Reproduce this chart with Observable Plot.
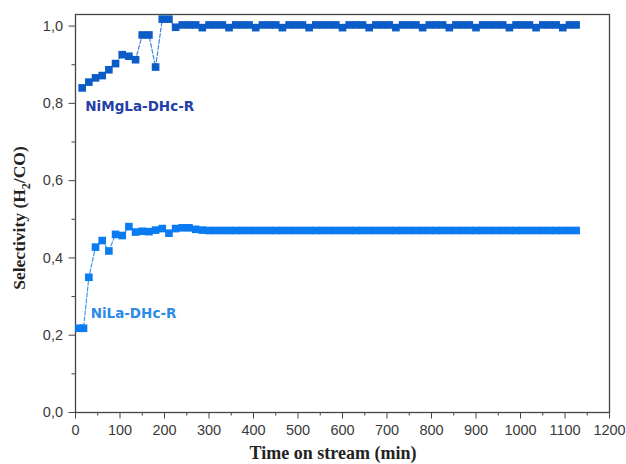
<!DOCTYPE html>
<html><head><meta charset="utf-8">
<script src="https://cdn.jsdelivr.net/npm/d3@7"></script>
<script src="https://cdn.jsdelivr.net/npm/@observablehq/plot@0.6"></script>
<style>body{margin:0;background:#fff}</style>
</head><body><div id="chart"></div>
<script>
const xTicks = [0,100,200,300,400,500,600,700,800,900,1000,1100,1200];
const xMinorTicks = [50,150,250,350,450,550,650,750,850,950,1050,1150];
const yTicks = [0,0.2,0.4,0.6,0.8,1.0];
const yMinorTicks = [0.1,0.3,0.5,0.7,0.9];

const seriesNames = ["NiMgLa-DHc-R", "NiLa-DHc-R"];

const timeUpper = [15,30,45,60,75,90,105,120,135,150,165,180,195,210,225,240,255,270,285,300,315,330,345,360,375,390,405,420,435,450,465,480,495,510,525,540,555,570,585,600,615,630,645,660,675,690,705,720,735,750,765,780,795,810,825,840,855,870,885,900,915,930,945,960,975,990,1005,1020,1035,1050,1065,1080,1095,1110,1125];
const selUpper = [0.840,0.855,0.866,0.872,0.887,0.903,0.926,0.922,0.913,0.977,0.977,0.894,1.018,1.018,0.997,1.003,1.003,1.003,0.996,1.003,1.003,1.003,0.996,1.003,1.003,1.003,0.996,1.003,1.003,1.003,0.996,1.003,1.003,1.003,0.996,1.003,1.003,1.003,1.003,0.996,1.003,1.003,1.003,0.996,1.003,1.003,1.003,0.996,1.003,1.003,1.003,0.996,1.003,1.003,1.003,0.996,1.003,1.003,1.003,0.996,1.003,1.003,1.003,1.003,0.996,1.003,1.003,1.003,0.996,1.003,1.003,1.003,0.996,1.003,1.003];

const timeLower = [8,18,30,45,60,75,90,105,120,135,150,165,180,195,210,225,240,255,270,285,300,315,330,345,360,375,390,405,420,435,450,465,480,495,510,525,540,555,570,585,600,615,630,645,660,675,690,705,720,735,750,765,780,795,810,825,840,855,870,885,900,915,930,945,960,975,990,1005,1020,1035,1050,1065,1080,1095,1110,1125];
const selLower = [0.218,0.218,0.350,0.428,0.445,0.418,0.461,0.458,0.481,0.467,0.469,0.468,0.472,0.476,0.464,0.476,0.478,0.478,0.474,0.472,0.471,0.471,0.471,0.471,0.471,0.471,0.471,0.471,0.471,0.471,0.471,0.471,0.471,0.471,0.471,0.471,0.471,0.471,0.471,0.471,0.471,0.471,0.471,0.471,0.471,0.471,0.471,0.471,0.471,0.471,0.471,0.471,0.471,0.471,0.471,0.471,0.471,0.471,0.471,0.471,0.471,0.471,0.471,0.471,0.471,0.471,0.471,0.471,0.471,0.471,0.471,0.471,0.471,0.471,0.471,0.471];

const upper = timeUpper.map((t, i) => ({t, v: selUpper[i]}));
const lower = timeLower.map((t, i) => ({t, v: selLower[i]}));
const fmtY = d => d.toFixed(1).replace(".", ",");

const chart = Plot.plot({
  width: 626, height: 464,
  marginLeft: 75, marginRight: 17, marginTop: 14, marginBottom: 52,
  style: {fontFamily: "'Liberation Sans', Arial, sans-serif", fontSize: "14.5px", color: "#3a3a3a", background: "#fff"},
  x: {domain: [0, 1200], label: null},
  y: {domain: [0, 1.03], label: null},
  marks: [
    Plot.axisX({ticks: xMinorTicks, tickSize: 3.5, tickFormat: () => "", label: null, stroke: "#444"}),
    Plot.axisX({ticks: xTicks, tickSize: 6.5, tickPadding: 6, tickFormat: d => String(d), label: null, stroke: "#444", fill: "#3a3a3a"}),
    Plot.axisY({ticks: yMinorTicks, tickSize: 3.5, tickFormat: () => "", label: null, stroke: "#444"}),
    Plot.axisY({ticks: yTicks, tickSize: 6.5, tickPadding: 6, tickFormat: fmtY, label: null, stroke: "#444", fill: "#3a3a3a"}),
    Plot.frame({stroke: "#444", strokeWidth: 1.3}),
    Plot.line(lower, {x: "t", y: "v", stroke: "#3d98f2", strokeWidth: 1.2, strokeDasharray: "4,2"}),
    Plot.line(upper, {x: "t", y: "v", stroke: "#3f86d8", strokeWidth: 1.2, strokeDasharray: "4,2"}),
    Plot.dot(lower, {x: "t", y: "v", symbol: "square", r: 4.3, fill: "#0b7bf2"}),
    Plot.dot(upper, {x: "t", y: "v", symbol: "square", r: 4.3, fill: "#0b5cc6"}),
    Plot.text([seriesNames[0]], {x: 22, y: 0.792, text: d => d, textAnchor: "start", fill: "#2440a8", fontWeight: "bold", fontSize: 13.5, fontFamily: "'DejaVu Sans', sans-serif"}),
    Plot.text([seriesNames[1]], {x: 34, y: 0.255, text: d => d, textAnchor: "start", fill: "#2d8ae8", fontWeight: "bold", fontSize: 13.5, fontFamily: "'DejaVu Sans', sans-serif"})
  ]
});
document.getElementById("chart").appendChild(chart);

const svg = d3.select(chart);
const serif = "'Liberation Serif', 'Times New Roman', serif";
svg.append("text")
  .attr("x", 333).attr("y", 459)
  .attr("text-anchor", "middle")
  .attr("font-family", serif).attr("font-weight", "bold").attr("font-size", 18).attr("fill", "#222")
  .text("Time on stream (min)");
const yl = svg.append("text")
  .attr("transform", "translate(25,218) rotate(-90)")
  .attr("text-anchor", "middle")
  .attr("font-family", serif).attr("font-weight", "bold").attr("font-size", 17.5).attr("fill", "#222");
yl.append("tspan").text("Selectivity (H");
yl.append("tspan").attr("dy", 4.5).attr("font-size", 12).text("2");
yl.append("tspan").attr("dy", -4.5).text("/CO)");
</script>
</body></html>
